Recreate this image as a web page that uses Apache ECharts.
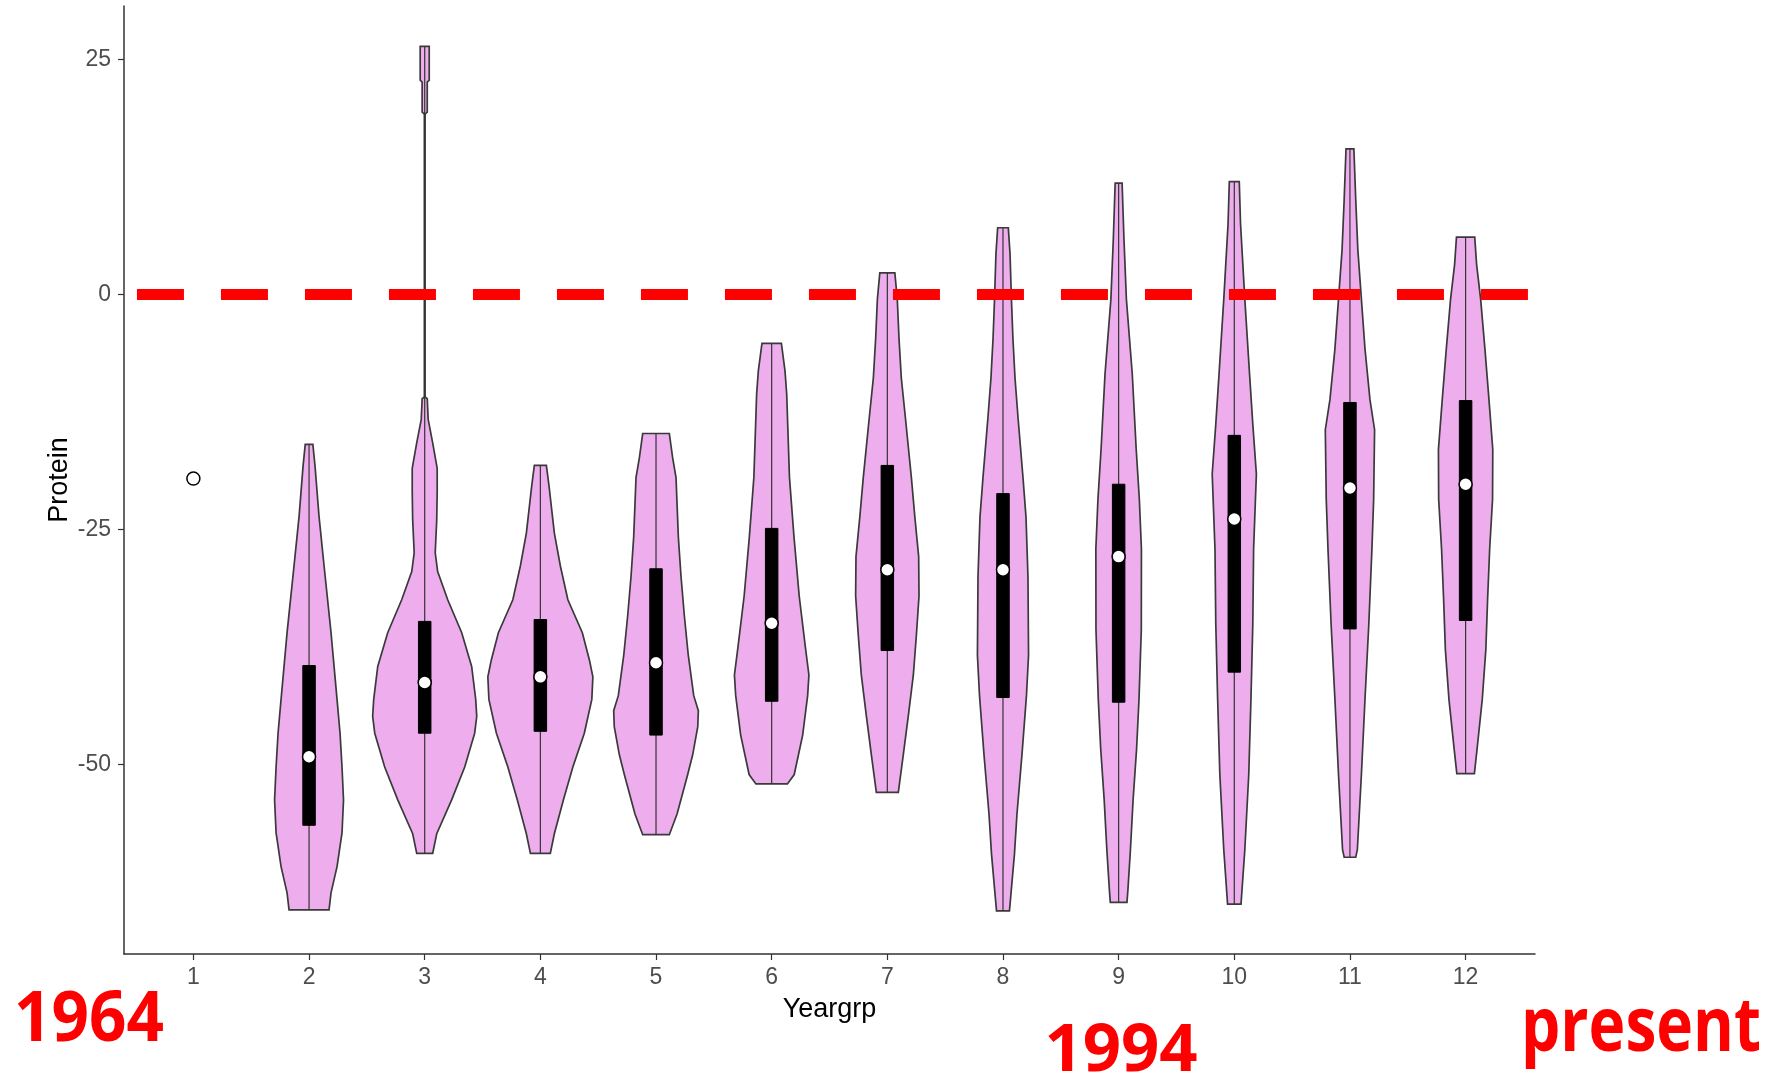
<!DOCTYPE html>
<html>
<head>
<meta charset="utf-8">
<script src="https://cdn.jsdelivr.net/npm/echarts@6/dist/echarts.min.js"></script>
<style>html,body{margin:0;padding:0;background:#fff}#chart{width:1772px;height:1075px}</style>
</head>
<body>
<div id="chart"></div>
<script>
// ---------------- data ----------------
const groups = [1, 2, 3, 4, 5, 6, 7, 8, 9, 10, 11, 12];
const xTickValues = [1, 2, 3, 4, 5, 6, 7, 8, 9, 10, 11, 12];
const yTickValues = [-50, -25, 0, 25];

// violin outlines: [Protein value, half width in Yeargrp units]
const violin2 = [[-15.96,0.033],[-18.3,0.052],[-23.6,0.086],[-28.9,0.130],[-36.0,0.190],[-43.1,0.242],[-46.7,0.268],[-50.3,0.285],[-53.8,0.298],[-57.3,0.285],[-60.9,0.242],[-63.7,0.190],[-65.5,0.173]];
const violin3 = [[26.4,0.039],[22.8,0.039],[22.6,0.022],[19.4,0.022],[19.2,0.003],[-10.9,0.003],[-11.1,0.022],[-13.3,0.030],[-15.8,0.069],[-18.5,0.108],[-21.0,0.108],[-24.0,0.104],[-27.5,0.091],[-29.5,0.112],[-32.5,0.199],[-36.0,0.320],[-39.6,0.406],[-43.1,0.441],[-44.9,0.450],[-46.7,0.432],[-50.3,0.346],[-53.8,0.233],[-57.4,0.104],[-59.5,0.069]];
const violin4 = [[-18.2,0.052],[-20.4,0.075],[-25.4,0.121],[-28.9,0.173],[-32.5,0.238],[-36.0,0.363],[-38.9,0.424],[-40.7,0.454],[-43.1,0.445],[-46.7,0.380],[-50.3,0.281],[-53.8,0.199],[-57.4,0.121],[-59.5,0.086]];
const violin5 = [[-14.8,0.115],[-17.4,0.144],[-19.5,0.173],[-25.8,0.193],[-30.0,0.216],[-34.2,0.245],[-38.4,0.279],[-42.7,0.326],[-44.3,0.366],[-46.0,0.361],[-49.0,0.317],[-51.1,0.274],[-55.3,0.182],[-57.5,0.115]];
const violin6 = [[-5.2,0.084],[-8.1,0.115],[-10.6,0.130],[-19.5,0.154],[-25.8,0.193],[-32.1,0.238],[-37.6,0.292],[-40.5,0.322],[-42.7,0.311],[-46.9,0.268],[-51.1,0.195],[-52.1,0.136]];
const violin7 = [[2.3,0.065],[-0.5,0.086],[-4.7,0.101],[-8.9,0.121],[-13.1,0.156],[-19.5,0.208],[-23.7,0.238],[-27.9,0.271],[-32.1,0.274],[-36.3,0.251],[-40.5,0.225],[-44.8,0.182],[-49.0,0.138],[-53.0,0.095]];
const violin8 = [[7.1,0.046],[4.3,0.061],[-0.5,0.073],[-4.7,0.086],[-8.9,0.104],[-13.1,0.130],[-19.5,0.173],[-23.7,0.199],[-30.0,0.216],[-38.4,0.221],[-42.7,0.203],[-49.0,0.164],[-55.3,0.121],[-59.6,0.099],[-63.8,0.069],[-65.6,0.056]];
const violin9 = [[11.85,0.030],[5.9,0.046],[-0.5,0.067],[-8.5,0.118],[-16.5,0.152],[-21.8,0.179],[-27.1,0.197],[-35.7,0.196],[-43.1,0.176],[-48.4,0.155],[-53.8,0.125],[-59.1,0.102],[-63.4,0.080],[-64.7,0.072]];
const violin10 = [[12.0,0.043],[7.5,0.054],[-0.5,0.091],[-8.5,0.132],[-13.8,0.160],[-19.1,0.191],[-27.1,0.167],[-35.1,0.160],[-43.1,0.144],[-51.1,0.125],[-59.1,0.091],[-64.9,0.058]];
const violin11 = [[15.5,0.034],[10.1,0.050],[4.8,0.068],[-0.5,0.099],[-5.8,0.130],[-11.2,0.173],[-14.4,0.213],[-21.8,0.205],[-27.1,0.190],[-35.1,0.163],[-43.1,0.130],[-51.1,0.099],[-59.1,0.064],[-59.9,0.050]];
const violin12 = [[6.1,0.079],[3.2,0.095],[-0.5,0.130],[-5.8,0.167],[-11.2,0.202],[-16.5,0.235],[-21.8,0.233],[-27.1,0.208],[-32.5,0.190],[-37.8,0.175],[-43.1,0.144],[-48.4,0.099],[-51.0,0.076]];

// box summaries per group (group 1 has a single observation)
const boxUpper  = [null, -39.5, -34.8, -34.6, -29.2, -24.9, -18.2, -21.2, -20.2, -15.0, -11.5, -11.3];
const boxLower  = [null, -56.5, -46.7, -46.5, -46.9, -43.3, -37.9, -42.9, -43.4, -40.2, -35.6, -34.7];
const rangeMax  = [null, -15.96, 26.4, -18.2, -14.8, -5.2, 2.3, 7.1, 11.85, 12.0, 15.5, 6.1];
const rangeMin  = [null, -65.5, -59.5, -59.5, -57.5, -52.1, -53.0, -65.6, -64.7, -64.9, -59.9, -51.0];
const medians   = [-19.6, -49.2, -41.3, -40.7, -39.2, -35.0, -29.3, -29.3, -27.9, -23.9, -20.6, -20.2];

// reference line at Protein = 0
const refLineX = [0.512, 12.539];
const refLineValue = 0;

// annotations
const annoLeft = '1964';
const annoMid = '1994';
const annoRight = 'present';

// ---------------- build ----------------
const violinByGroup = {2: violin2, 3: violin3, 4: violin4, 5: violin5, 6: violin6, 7: violin7,
  8: violin8, 9: violin9, 10: violin10, 11: violin11, 12: violin12};
const violinData = groups.filter(g => violinByGroup[g]).map(g => [g]);
const boxData = groups.map((g, i) => [g, boxLower[i], boxUpper[i], rangeMin[i], rangeMax[i]]).filter(d => d[1] !== null);
const medianData = groups.map((g, i) => [g, medians[i]]);
const BOX_W = 0.108;

const chart = echarts.init(document.getElementById('chart'), null, {renderer: 'canvas'});

const option = {
  animation: false,
  backgroundColor: '#ffffff',
  grid: {left: 124, right: 237, top: 6, bottom: 121, containLabel: false, outerBoundsMode: 'none'},
  xAxis: {
    type: 'value', min: 0.4, max: 12.6,
    name: 'Yeargrp', nameLocation: 'middle', nameGap: 42, nameMoveOverlap: false,
    nameTextStyle: {fontSize: 27, color: '#000', fontFamily: 'Liberation Sans'},
    axisLine: {show: true, onZero: false, lineStyle: {color: '#333', width: 1.5}},
    axisTick: {show: true, length: 6, customValues: xTickValues, lineStyle: {color: '#333', width: 1.2}},
    axisLabel: {customValues: xTickValues, color: '#4d4d4d', fontSize: 23, fontFamily: 'Liberation Sans', margin: 12},
    splitLine: {show: false}
  },
  yAxis: {
    type: 'value', min: -70.2, max: 30.7,
    name: 'Protein', nameLocation: 'middle', nameGap: 51, nameRotate: 90, nameMoveOverlap: false,
    nameTextStyle: {fontSize: 27, color: '#000', fontFamily: 'Liberation Sans'},
    axisLine: {show: true, onZero: false, lineStyle: {color: '#333', width: 1.5}},
    axisTick: {show: true, length: 6, customValues: yTickValues, lineStyle: {color: '#333', width: 1.2}},
    axisLabel: {customValues: yTickValues, color: '#4d4d4d', fontSize: 23, fontFamily: 'Liberation Sans', margin: 13},
    splitLine: {show: false}
  },
  series: [
    {
      type: 'custom', name: 'violin', data: violinData, z: 2,
      encode: {x: 0},
      renderItem: function (params, api) {
        const g = api.value(0);
        const prof = violinByGroup[g];
        const pts = [];
        prof.forEach(p => pts.push(api.coord([g + p[1], p[0]])));
        for (let k = prof.length - 1; k >= 0; k--) pts.push(api.coord([g - prof[k][1], prof[k][0]]));
        return {type: 'polygon', shape: {points: pts},
          style: {fill: '#eeaeee', stroke: '#3a3a3a', lineWidth: 1.7}};
      }
    },
    {
      type: 'custom', name: 'box', data: boxData, z: 3,
      encode: {x: 0, y: [1, 2, 3, 4]},
      renderItem: function (params, api) {
        const g = api.value(0);
        const lo = api.value(1), hi = api.value(2), mn = api.value(3), mx = api.value(4);
        const top = api.coord([g, mx]);
        const bot = api.coord([g, mn]);
        const p1 = api.coord([g - BOX_W / 2, hi]);
        const p2 = api.coord([g + BOX_W / 2, lo]);
        return {type: 'group', children: [
          {type: 'line', shape: {x1: top[0], y1: top[1], x2: bot[0], y2: bot[1]},
            style: {stroke: '#333', lineWidth: 1.2}},
          {type: 'rect', shape: {x: p1[0], y: p1[1], width: p2[0] - p1[0], height: p2[1] - p1[1]},
            style: {fill: '#000', stroke: '#000', lineWidth: 1}}
        ]};
      }
    },
    {
      type: 'scatter', name: 'median', data: medianData, z: 4,
      symbol: 'circle', symbolSize: 13,
      itemStyle: {color: '#ffffff', borderColor: '#000', borderWidth: 1.5, opacity: 1}
    },
    {
      type: 'line', name: 'zero', z: 5,
      data: [[refLineX[0], refLineValue], [refLineX[1], refLineValue]],
      symbol: 'none', silent: true,
      lineStyle: {color: '#ff0000', width: 11, type: [47, 37], cap: 'butt'}
    }
  ],
  graphic: [
    {type: 'text', x: 89, y: 1021, scaleX: 0.95, z: 10,
      style: {text: annoLeft, x: 0, y: 0, align: 'center', verticalAlign: 'middle',
        fontSize: 69, fontWeight: 'bold', fontFamily: 'Open Sans', fill: '#ff0000'}},
    {type: 'text', x: 1121, y: 1052, scaleX: 1.0, z: 10,
      style: {text: annoMid, x: 0, y: 0, align: 'center', verticalAlign: 'middle',
        fontSize: 67, fontWeight: 'bold', fontFamily: 'Open Sans', fill: '#ff0000'}},
    {type: 'text', x: 1641, y: 1030, scaleX: 0.83, z: 10,
      style: {text: annoRight, x: 0, y: 0, align: 'center', verticalAlign: 'middle',
        fontSize: 75, fontWeight: 'bold', fontFamily: 'Open Sans', fill: '#ff0000'}}
  ]
};
chart.setOption(option);
</script>
</body>
</html>
